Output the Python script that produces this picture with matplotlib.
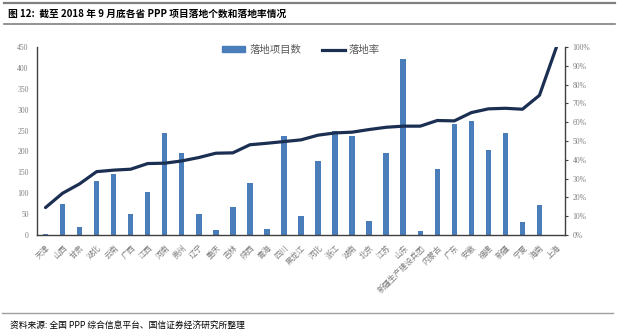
import matplotlib
matplotlib.use("Agg")
import matplotlib.pyplot as plt
from matplotlib.lines import Line2D

plt.rcParams['font.family'] = ['Noto Sans CJK SC', 'DejaVu Sans']

provinces = ['天津', '山西', '甘肃', '湖北', '云南', '广西', '江西', '河南', '贵州', '辽宁',
             '重庆', '吉林', '陕西', '青海', '四川', '黑龙江', '河北', '浙江', '湖南', '北京',
             '江苏', '山东', '新疆生产建设兵团', '内蒙古', '广东', '安徽', '福建', '新疆', '宁夏',
             '海南', '上海']
projects = [3, 74, 20, 130, 145, 51, 104, 245, 196, 51,
            12, 67, 125, 14, 236, 45, 176, 248, 237, 34,
            196, 421, 10, 158, 265, 273, 203, 243, 30,
            71, 1]
rate = [14.6, 22.2, 27.2, 33.7, 34.5, 35.0, 38.0, 38.2, 39.4, 41.2,
        43.5, 43.7, 48.0, 48.8, 49.7, 50.6, 53.1, 54.3, 54.7, 56.1,
        57.3, 57.9, 57.9, 60.9, 60.7, 65.1, 67.1, 67.4, 66.9,
        74.3, 100.0]
left_ticks = [0, 50, 100, 150, 200, 250, 300, 350, 400, 450]
right_ticks = [0, 10, 20, 30, 40, 50, 60, 70, 80, 90, 100]

title = '图 12:  截至 2018 年 9 月底各省 PPP 项目落地个数和落地率情况'
source = '资料来源: 全国 PPP 综合信息平台、国信证券经济研究所整理'

bar_color = '#4A7EBB'
line_color = '#1B2F52'
axis_color = '#404040'
tick_color = '#808080'

W, H = 620, 336
fig = plt.figure(figsize=(W / 100, H / 100), dpi=100)
ax = fig.add_axes([37 / W, 1 - 235 / H, (565 - 37) / W, (235 - 47) / H])
ax2 = ax.twinx()

x = list(range(len(provinces)))
bars = ax.bar(x, projects, width=0.32, color=bar_color, zorder=2)
ax.set_xlim(-0.5, len(provinces) - 0.5)
ax.set_ylim(0, 450)
ax.set_yticks(left_ticks)
ax.set_yticklabels([str(v) for v in left_ticks], family='Liberation Serif',
                   fontsize=5.5, color=tick_color)
ax.tick_params(axis='y', length=0, pad=6)
ax.set_xticks(x)
ax.set_xticklabels(provinces, rotation=45, ha='right', va='top',
                   rotation_mode='anchor', fontsize=5.7, color=tick_color)
ax.tick_params(axis='x', length=0, pad=6)

line, = ax2.plot(x, rate, color=line_color, lw=2.3, solid_joinstyle='round',
                 solid_capstyle='round', zorder=3)
ax2.set_ylim(0, 100)
ax2.set_yticks(right_ticks)
ax2.set_yticklabels([f'{v}%' for v in right_ticks], family='Liberation Serif',
                    fontsize=5.5, color=tick_color)
ax2.tick_params(axis='y', length=2.5, width=0.8, color=axis_color, pad=3)

for a in (ax, ax2):
    a.spines['top'].set_visible(False)
    for s in ('left', 'right', 'bottom'):
        a.spines[s].set_color(axis_color)
        a.spines[s].set_linewidth(1.0)
ax.spines['right'].set_visible(False)
ax2.spines['left'].set_visible(False)
ax2.spines['bottom'].set_visible(False)

handles = [plt.Rectangle((0, 0), 1, 1, color=bar_color),
           Line2D([0], [0], color=line_color, lw=2.3)]
leg = ax2.legend(handles, ['落地项目数', '落地率'], ncol=2, loc='center',
                 bbox_to_anchor=(0.5, (235 - 50) / 188), frameon=False,
                 fontsize=7.5, handlelength=2.2, handleheight=0.45,
                 handletextpad=0.4, columnspacing=2.0, borderaxespad=0)
for t in leg.get_texts():
    t.set_color('#595959')

# decorations: rules, title and source
fig.add_artist(Line2D([4 / W, 615 / W], [1 - 3 / H, 1 - 3 / H], color='#808080', lw=1.6))
fig.add_artist(Line2D([4 / W, 615 / W], [1 - 24 / H, 1 - 24 / H], color='#808080', lw=1.2))
fig.add_artist(Line2D([2 / W, 613 / W], [1 - 313 / H, 1 - 313 / H], color='#A0A0A0', lw=1.0))
fig.text(8 / W, 1 - 13.5 / H, title, fontsize=7, fontweight='bold', va='center',
         ha='left', color='#000000')
fig.text(10 / W, 1 - 326 / H, source, fontsize=6.3, va='center', ha='left',
         color='#000000')

fig.savefig('out.png', dpi=100)
